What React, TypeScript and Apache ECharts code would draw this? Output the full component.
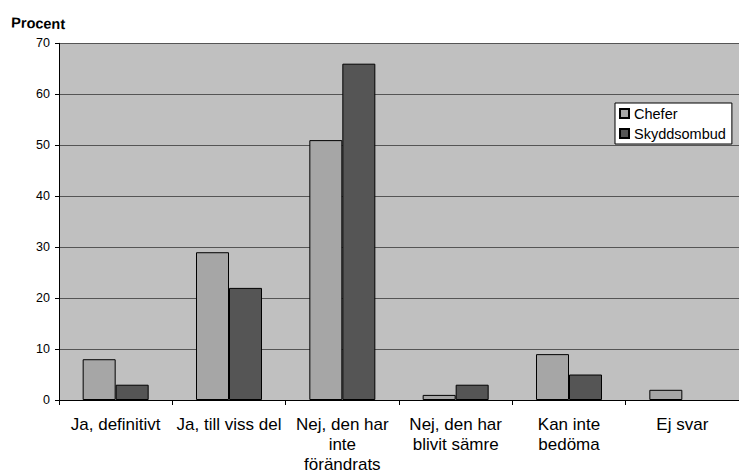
import React, { useEffect, useRef } from "react";
import * as echarts from "echarts";

const categories = [
  "Ja, definitivt",
  "Ja, till viss del",
  "Nej, den har\ninte\nförändrats",
  "Nej, den har\nblivit sämre",
  "Kan inte\nbedöma",
  "Ej svar",
];
const chefer = [8, 29, 51, 1, 9, 2];
const skyddsombud: (number | null)[] = [3, 22, 66, 3, 5, null];
const yTicks = { min: 0, max: 70, interval: 10 };
const seriesNames = ["Chefer", "Skyddsombud"];

const FONT = "'Liberation Sans', Arial, sans-serif";

export default function App() {
  const ref = useRef<HTMLDivElement>(null);
  useEffect(() => {
    if (!ref.current) return;
    const chart = echarts.init(ref.current, undefined, { renderer: "svg" });
    chart.setOption({
      animation: false,
      backgroundColor: "#ffffff",
      textStyle: { fontFamily: FONT },
      graphic: [
        {
          type: "text",
          left: 11,
          top: 15,
          rotation: -0.03,
          style: {
            text: "Procent",
            font: `bold 14.5px ${FONT}`,
            fill: "#000",
          },
        },
      ],
      legend: {
        orient: "vertical",
        left: 615,
        top: 103,
        backgroundColor: "#ffffff",
        borderColor: "#000",
        borderWidth: 1,
        borderRadius: 0,
        padding: [3, 6, 3, 4],
        itemGap: 5,
        itemWidth: 9,
        itemHeight: 9,
        icon: "rect",
        textStyle: { fontSize: 14.5, color: "#000", fontFamily: FONT },
        data: seriesNames,
      },
      grid: {
        left: 59,
        top: 43.3,
        width: 690,
        height: 358.7,
        show: true,
        backgroundColor: "#C0C0C0",
        borderWidth: 0,
        containLabel: false,
      },
      xAxis: {
        type: "category",
        data: categories,
        boundaryGap: true,
        axisLine: { show: true, lineStyle: { color: "#000", width: 1 } },
        axisTick: { show: true, length: 5, lineStyle: { color: "#000" } },
        axisLabel: {
          interval: 0,
          margin: 14,
          color: "#000",
          fontSize: 17,
          lineHeight: 20,
          fontFamily: FONT,
        },
      },
      yAxis: {
        type: "value",
        min: yTicks.min,
        max: yTicks.max,
        interval: yTicks.interval,
        axisLine: { show: true, lineStyle: { color: "#000", width: 1 } },
        axisTick: { show: true, length: 4, lineStyle: { color: "#000" } },
        axisLabel: { color: "#000", fontSize: 12.5, margin: 9, fontFamily: FONT },
        splitLine: { show: true, lineStyle: { color: "#555", width: 1 } },
      },
      series: [
        {
          name: seriesNames[0],
          type: "bar",
          data: chefer,
          barWidth: 33,
          barGap: "0%",
          itemStyle: { color: "#A6A6A6", borderColor: "#000", borderWidth: 1 },
        },
        {
          name: seriesNames[1],
          type: "bar",
          data: skyddsombud,
          barWidth: 33,
          barGap: "0%",
          itemStyle: { color: "#555555", borderColor: "#000", borderWidth: 1 },
        },
      ],
    });
    return () => chart.dispose();
  }, []);
  return (
    <div
      ref={ref}
      style={{ position: "fixed", left: 0, top: 0, width: 739, height: 474 }}
    />
  );
}
